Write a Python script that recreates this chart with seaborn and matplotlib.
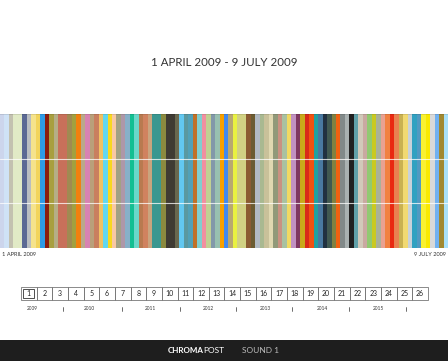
import numpy as np
import pandas as pd
import matplotlib
matplotlib.use("Agg")
import matplotlib.pyplot as plt
import seaborn as sns
from matplotlib.patches import Rectangle

# ---- DATA ----
# one colour per day, 1 April 2009 .. 9 July 2009
day_colors = [
    "#ccd5ec", "#cfe2f6", "#c3c1b0", "#e1eac6", "#e1eac6", "#5b6994", "#b9bdc0", "#f5e38c", "#f2d45c", "#2e9ae6",
    "#8b1c0f", "#a89f3f", "#b5ae86", "#c8705a", "#c8705a", "#a08a52", "#a2a03f", "#f1800f", "#b9a98a", "#d882b1",
    "#b9a07a", "#c97f5f", "#f1c163", "#62d7f0", "#f8d81f", "#f8c8a2", "#a2a183", "#ae97a8", "#87b0c8", "#12bf91",
    "#6ad8c9", "#b87a50", "#d0825f", "#c9a47e", "#3a9790", "#3a9790", "#8b8a3f", "#3f3b33", "#3f3b33", "#69684f",
    "#62c8f1", "#5a99a1", "#51a1b8", "#c07128", "#80cfcf", "#f18fa0", "#c1d192", "#8298a9", "#98c0b0", "#f8a000",
    "#4189f0", "#b8a872", "#e9f141", "#d1d183", "#d1d183", "#8b5b31", "#6b5b31", "#b1b9c1", "#a9b991", "#c9c19a",
    "#e0d8b1", "#919979", "#c99181", "#a9c1a1", "#f1d962", "#c191c1", "#7f3760", "#c9a91a", "#d92919", "#f15111",
    "#21a1a1", "#4979a1", "#213141", "#415951", "#818141", "#f16111", "#818989", "#a9b1b1", "#212121", "#61a1a9",
    "#d1c9b9", "#c9a9a1", "#91c971", "#c9c921", "#a9b199", "#e9a191", "#f18141", "#e92911", "#e98151", "#c9b151",
    "#f1d971", "#c9d1d9", "#31a1c1", "#5199c1", "#f9f131", "#f9e901", "#d9d9d9", "#71b1f1", "#a18931", "#a9e1f9",
]
days = pd.date_range("2009-04-01", "2009-07-09", freq="D")
title = "1 APRIL 2009 - 9 JULY 2009"
start_label = "1 APRIL 2009"
end_label = "9 JULY 2009"
pages = [str(i) for i in range(1, 27)]
years = ["2009", "2010", "2011", "2012", "2013", "2014", "2015"]
year_x = [32, 89, 150, 208, 265, 322, 378]
sep_x = [63, 122, 180, 236, 292, 349, 406]

FONT = "Lato"
W, H = 448, 361


def main():
    sns.set_theme(style="white")
    plt.rcParams["font.family"] = [FONT, "DejaVu Sans"]

    fig = plt.figure(figsize=(W / 100, H / 100), dpi=100)
    fig.patch.set_facecolor("white")

    # ---- STRIPES ----
    ax = fig.add_axes([0, (H - 248) / H, 1, 134 / H])
    df = pd.DataFrame({"day": days.strftime("%Y-%m-%d"), "value": 1.0})
    sns.barplot(data=df, x="day", y="value", hue="day", palette=day_colors,
                width=1.0, saturation=1, linewidth=0, legend=False, ax=ax)
    ax.set_xlim(-0.5, len(days) - 0.5)
    ax.set_ylim(0, 1)
    for yy in (1 / 3, 2 / 3):
        ax.axhline(yy, color="white", lw=0.8, alpha=0.75)
    ax.axhline(1, color="#000000", lw=1.2, alpha=0.12)
    ax.axis("off")

    # ---- OVERLAY (pixel coords) ----
    ov = fig.add_axes([0, 0, 1, 1], facecolor="none")
    ov.set_xlim(0, W)
    ov.set_ylim(H, 0)
    ov.axis("off")

    ov.text(W / 2, 62, title, ha="center", va="center", fontsize=8.3, color="#333333")
    ov.text(2, 255, start_label, ha="left", va="center", fontsize=4.1, color="#333333")
    ov.text(446, 255, end_label, ha="right", va="center", fontsize=4.1, color="#333333")

    # pagination boxes
    x0, pitch = 21, 15.65
    for i, p in enumerate(pages):
        bx = x0 + i * pitch
        ov.add_patch(Rectangle((bx, 287), pitch, 13, fill=False, ec="#777777", lw=0.6))
        ov.text(bx + pitch / 2, 293.5, p, ha="center", va="center", fontsize=5, color="#222222")
    ov.add_patch(Rectangle((x0 + 2.2, 289.2), pitch - 4.4, 8.6, fill=False, ec="#333333", lw=0.6))

    for yr, xx in zip(years, year_x):
        ov.text(xx, 309, yr, ha="center", va="center", fontsize=3.4, color="#333333")
    for xx in sep_x:
        ov.plot([xx, xx], [306.5, 311], color="#333333", lw=0.5)

    # footer
    ov.add_patch(Rectangle((0, 340), W, 21, color="#1e1e1e", lw=0))
    ov.text(203.5, 350.5, "CHROMA", ha="right", va="center", fontsize=5.8, color="white", fontweight="bold")
    ov.text(203.5, 350.5, "POST", ha="left", va="center", fontsize=6, color="white")
    ov.text(242, 350.5, "SOUND 1", ha="left", va="center", fontsize=6, color="#bbbbbb")

    fig.savefig("out.png", dpi=100)


if __name__ == "__main__":
    main()
